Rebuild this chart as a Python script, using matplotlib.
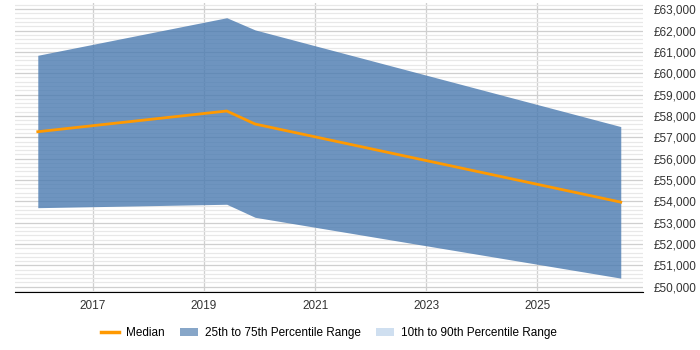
import matplotlib
matplotlib.use('Agg')
import matplotlib.pyplot as plt
from matplotlib.ticker import MultipleLocator, FuncFormatter
from matplotlib.lines import Line2D
from matplotlib.patches import Patch

# 数据
years = [2016.01, 2019.41, 2019.92, 2026.50]
p25 = [53700, 53860, 53250, 50400]
median = [57260, 58230, 57620, 53960]
p75 = [60840, 62600, 62030, 57500]

plt.rcParams['font.family'] = ['Liberation Sans', 'DejaVu Sans']
plt.rcParams['font.size'] = 8.5

fig = plt.figure(figsize=(7, 3.5), dpi=100)
ax = fig.add_axes([15 / 700, 1 - 292 / 350, 628 / 700, 289 / 350])

# 网格
ax.set_axisbelow(True)
ax.yaxis.set_major_locator(MultipleLocator(1000))
ax.yaxis.set_minor_locator(MultipleLocator(200))
ax.xaxis.set_major_locator(MultipleLocator(2, offset=1))
ax.grid(which='major', axis='y', color='#cfcfcf', linewidth=0.9)
ax.grid(which='minor', axis='y', color='#e8e8e8', linewidth=0.9)
ax.grid(which='major', axis='x', color='#cfcfcf', linewidth=0.9)

ax.fill_between(years, p25, p75, color='#4a7ab0', alpha=0.8, linewidth=0)
ax.plot(years, median, color='#ff9900', linewidth=2)

ax.set_xlim(2015.6, 2026.9)
ax.set_ylim(49750, 63290)

ax.yaxis.tick_right()
ax.yaxis.set_major_formatter(FuncFormatter(lambda v, p: '£{:,.0f}'.format(v)))
ax.tick_params(axis='both', which='both', length=0, colors='#333333')
ax.tick_params(axis='y', pad=8)
ax.tick_params(axis='x', pad=6)
for s in ['top', 'left', 'right']:
    ax.spines[s].set_visible(False)
ax.spines['bottom'].set_color('#000000')

# 图例
handles = [
    Line2D([0], [0], color='#ff9900', linewidth=2.5),
    Patch(facecolor='#87a6c8'),
    Patch(facecolor='#cfdff0'),
]
labels = ['Median', '25th to 75th Percentile Range', '10th to 90th Percentile Range']
fig.legend(handles, labels, loc='center', bbox_to_anchor=(0.47, 1 - 333 / 350),
           ncol=3, frameon=False, handlelength=1.5, handletextpad=0.6, columnspacing=1.3)

fig.savefig('out.png', dpi=100)
